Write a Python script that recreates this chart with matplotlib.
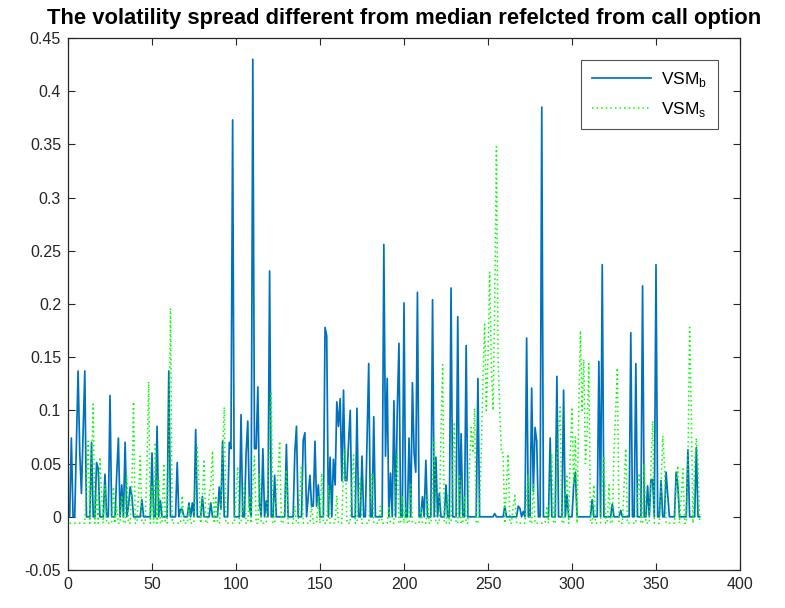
import numpy as np
import matplotlib
matplotlib.use("Agg")
import matplotlib.pyplot as plt
from matplotlib.ticker import FuncFormatter

title = "The volatility spread different from median refelcted from call option"
label_b = r"VSM$_\mathrm{b}$"
label_s = r"VSM$_\mathrm{s}$"

vsm_b = [
    0, 0.074, 0, 0, 0.068, 0.137, 0.06, 0.022, 0.08, 0.137,
    0, 0, 0, 0.070, 0, 0, 0.051, 0.045, 0, 0,
    0, 0.040, 0, 0, 0.114, 0, 0, 0, 0.04, 0.074,
    0, 0.03, 0, 0.070, 0, 0.01, 0.028, 0.02, 0, 0,
    0, 0, 0, 0.016, 0, 0, 0, 0, 0, 0.060,
    0, 0, 0.085, 0, 0.015, 0, 0, 0, 0, 0.137,
    0, 0, 0, 0, 0.051, 0, 0.007, 0.007, 0, 0,
    0, 0.013, 0, 0.013, 0, 0.082, 0, 0, 0, 0.019,
    0, 0, 0, 0, 0.013, 0, 0, 0, 0, 0.028,
    0.007, 0.071, 0, 0, 0, 0.070, 0.064, 0.373, 0, 0,
    0, 0, 0.096, 0, 0, 0.059, 0.090, 0.010, 0, 0.430,
    0.064, 0.064, 0.122, 0.013, 0, 0.064, 0, 0.015, 0, 0.231,
    0, 0, 0.039, 0, 0, 0, 0, 0, 0, 0.068,
    0, 0, 0, 0, 0.060, 0.085, 0, 0, 0, 0.072,
    0.079, 0, 0.02, 0.039, 0.010, 0.010, 0.071, 0.010, 0.030, 0,
    0, 0, 0.178, 0.170, 0, 0.056, 0, 0.054, 0.030, 0.108,
    0.085, 0.111, 0.034, 0.119, 0.034, 0.034, 0.070, 0.100, 0, 0,
    0, 0.102, 0, 0, 0.057, 0, 0, 0.070, 0.144, 0,
    0, 0.094, 0, 0, 0, 0, 0, 0.256, 0.057, 0.130,
    0, 0.041, 0, 0.109, 0, 0.100, 0.163, 0, 0, 0.201,
    0, 0, 0.074, 0, 0.126, 0.060, 0.042, 0.211, 0, 0,
    0.019, 0, 0.053, 0, 0, 0, 0.204, 0, 0.056, 0,
    0.022, 0, 0, 0, 0.030, 0, 0, 0.215, 0, 0,
    0, 0.188, 0, 0.078, 0, 0, 0.161, 0, 0, 0,
    0, 0, 0, 0.130, 0, 0, 0, 0, 0, 0,
    0, 0, 0, 0.003, 0, 0, 0, 0, 0, 0.010,
    0, 0, 0, 0, 0, 0, 0, 0.010, 0.008, 0,
    0.005, 0, 0.168, 0, 0, 0.121, 0.024, 0.084, 0.071, 0,
    0, 0.385, 0, 0, 0, 0, 0.074, 0, 0, 0,
    0.132, 0, 0, 0, 0.119, 0, 0.021, 0, 0, 0,
    0.030, 0.042, 0, 0, 0, 0, 0, 0, 0, 0,
    0, 0.016, 0, 0, 0, 0.146, 0, 0.237, 0, 0,
    0, 0, 0, 0.012, 0, 0, 0, 0, 0.006, 0,
    0, 0, 0, 0, 0.173, 0, 0, 0.144, 0, 0,
    0, 0.217, 0, 0, 0.029, 0, 0.035, 0.035, 0, 0.237,
    0, 0, 0.034, 0, 0, 0.042, 0.020, 0, 0, 0,
    0, 0.042, 0.029, 0, 0, 0, 0, 0, 0.063, 0,
    0, 0, 0, 0.065, 0, 0,
]

vsm_s = [
    -.006, -.006, -.006, -.006, -.006, -.006, -.006, -.006, -.006, -.006,
    .030, .071, -.006, .040, .106, -.006, .020, -.006, .056, .020,
    -.006, .030, -.006, -.006, -.006, -.006, .028, -.006, .010, -.006,
    -.006, .020, -.006, -.006, .039, -.006, -.006, .030, .108, -.006,
    -.006, .020, .057, -.006, -.006, -.006, .050, .127, -.006, .030,
    -.006, .070, -.006, .035, -.006, -.006, .050, -.006, -.006, .060,
    .196, -.006, -.006, -.006, -.006, -.006, -.006, .020, -.006, -.006,
    -.006, .010, -.006, -.006, -.006, .030, .065, .030, -.006, .020,
    .054, -.006, -.006, .020, .030, .062, -.006, .020, -.006, -.006,
    .010, .060, .103, -.006, -.006, -.006, -.006, -.006, -.006, .020,
    .047, -.006, -.006, .010, .032, -.006, -.006, .020, -.006, .030,
    .057, -.006, -.006, .040, -.006, -.006, -.006, -.006, .030, .070,
    .118, -.006, -.006, .020, .040, .071, -.006, -.006, .010, .044,
    -.006, -.006, -.006, -.006, .010, -.006, -.006, .020, .048, -.006,
    -.006, -.006, -.006, -.006, .010, -.006, -.006, -.006, .020, -.006,
    .041, -.006, -.006, -.006, .030, -.006, -.006, -.006, -.006, .020,
    -.006, -.006, -.006, .050, .064, -.006, -.006, -.006, .030, .058,
    -.006, -.006, .020, .036, -.006, -.006, -.006, -.006, -.006, .020,
    .041, -.006, -.006, -.006, -.006, .010, -.006, -.006, -.006, -.006,
    .010, -.006, -.006, -.006, .030, .059, -.006, -.006, .020, -.006,
    .010, -.006, -.006, .030, -.006, -.006, -.006, -.006, -.006, .010,
    -.006, -.006, -.006, .020, -.006, -.006, .030, .074, -.006, -.006,
    -.006, .080, .143, -.006, -.006, .020, -.006, -.006, .050, .089,
    -.006, -.006, .040, -.006, -.006, .020, -.006, -.006, .050, .084,
    .060, .102, -.006, -.006, .010, .060, .130, .181, .100, .150,
    .230, .140, .100, .200, .348, .150, .100, .060, .060, -.006,
    .030, .059, -.006, -.006, .010, .020, -.006, -.006, -.006, -.006,
    -.006, -.006, .020, .040, -.006, -.006, .030, -.006, -.006, -.006,
    -.006, -.006, -.006, -.006, .010, -.006, .030, .059, -.006, -.006,
    .050, .080, .103, -.006, -.006, .020, .040, -.006, .060, .103,
    .030, .075, -.006, .100, .175, .100, .148, .050, .080, .144,
    -.006, -.006, .030, -.006, -.006, -.006, -.006, .030, .057, -.006,
    -.006, .030, -.006, -.006, .060, .100, .140, -.006, -.006, -.006,
    .030, .064, -.006, -.006, -.006, -.006, -.006, -.006, .020, .041,
    -.006, -.006, .050, -.006, -.006, -.006, .050, .090, -.006, -.006,
    -.006, -.006, .030, .076, .050, -.006, -.006, -.006, -.006, -.006,
    -.006, .030, .048, -.006, .020, .045, -.006, -.006, .050, .178,
    .100, -.006, .050, .074, .050, -.006,
]

x_ticks = [0, 50, 100, 150, 200, 250, 300, 350, 400]
y_ticks = [-0.05, 0, 0.05, 0.1, 0.15, 0.2, 0.25, 0.3, 0.35, 0.4, 0.45]

plt.rcParams['font.family'] = ['Liberation Sans', 'DejaVu Sans']
plt.rcParams['mathtext.fontset'] = 'custom'
plt.rcParams['mathtext.rm'] = 'Liberation Sans'

fig = plt.figure(figsize=(7.85, 6.08), dpi=100)
ax = fig.add_axes([68/785, 1-570/608, (740-68)/785, (570-38)/608])

xb = np.arange(1, len(vsm_b) + 1)
xs = np.arange(1, len(vsm_s) + 1)
ax.plot(xb, vsm_b, color='#0072BD', lw=1.25, label=label_b)
ax.plot(xs, vsm_s, color='#00FF00', lw=1.1, linestyle=(0, (1, 2.0)), label=label_s)

ax.set_xlim(0, 400)
ax.set_ylim(-0.05, 0.45)
ax.set_xticks(x_ticks)
ax.set_yticks(y_ticks)
ax.yaxis.set_major_formatter(FuncFormatter(lambda v, p: ('%g' % round(v, 2))))
ax.tick_params(direction='in', top=True, right=True, length=5, width=0.8,
               labelsize=11.5, colors='#262626', pad=5)
for s in ax.spines.values():
    s.set_color('#262626')
    s.set_linewidth(0.9)

ax.set_title(title, fontsize=15.8, fontweight='bold', pad=10)

leg = ax.legend(loc='upper right', bbox_to_anchor=(0.967, 0.959), borderaxespad=0,
                fontsize=12.5, frameon=True, fancybox=False, edgecolor='#262626',
                handlelength=3.4, borderpad=0.6, labelspacing=0.6,
                handletextpad=0.6)
leg.get_frame().set_linewidth(0.8)

fig.savefig('out.png', dpi=100)
